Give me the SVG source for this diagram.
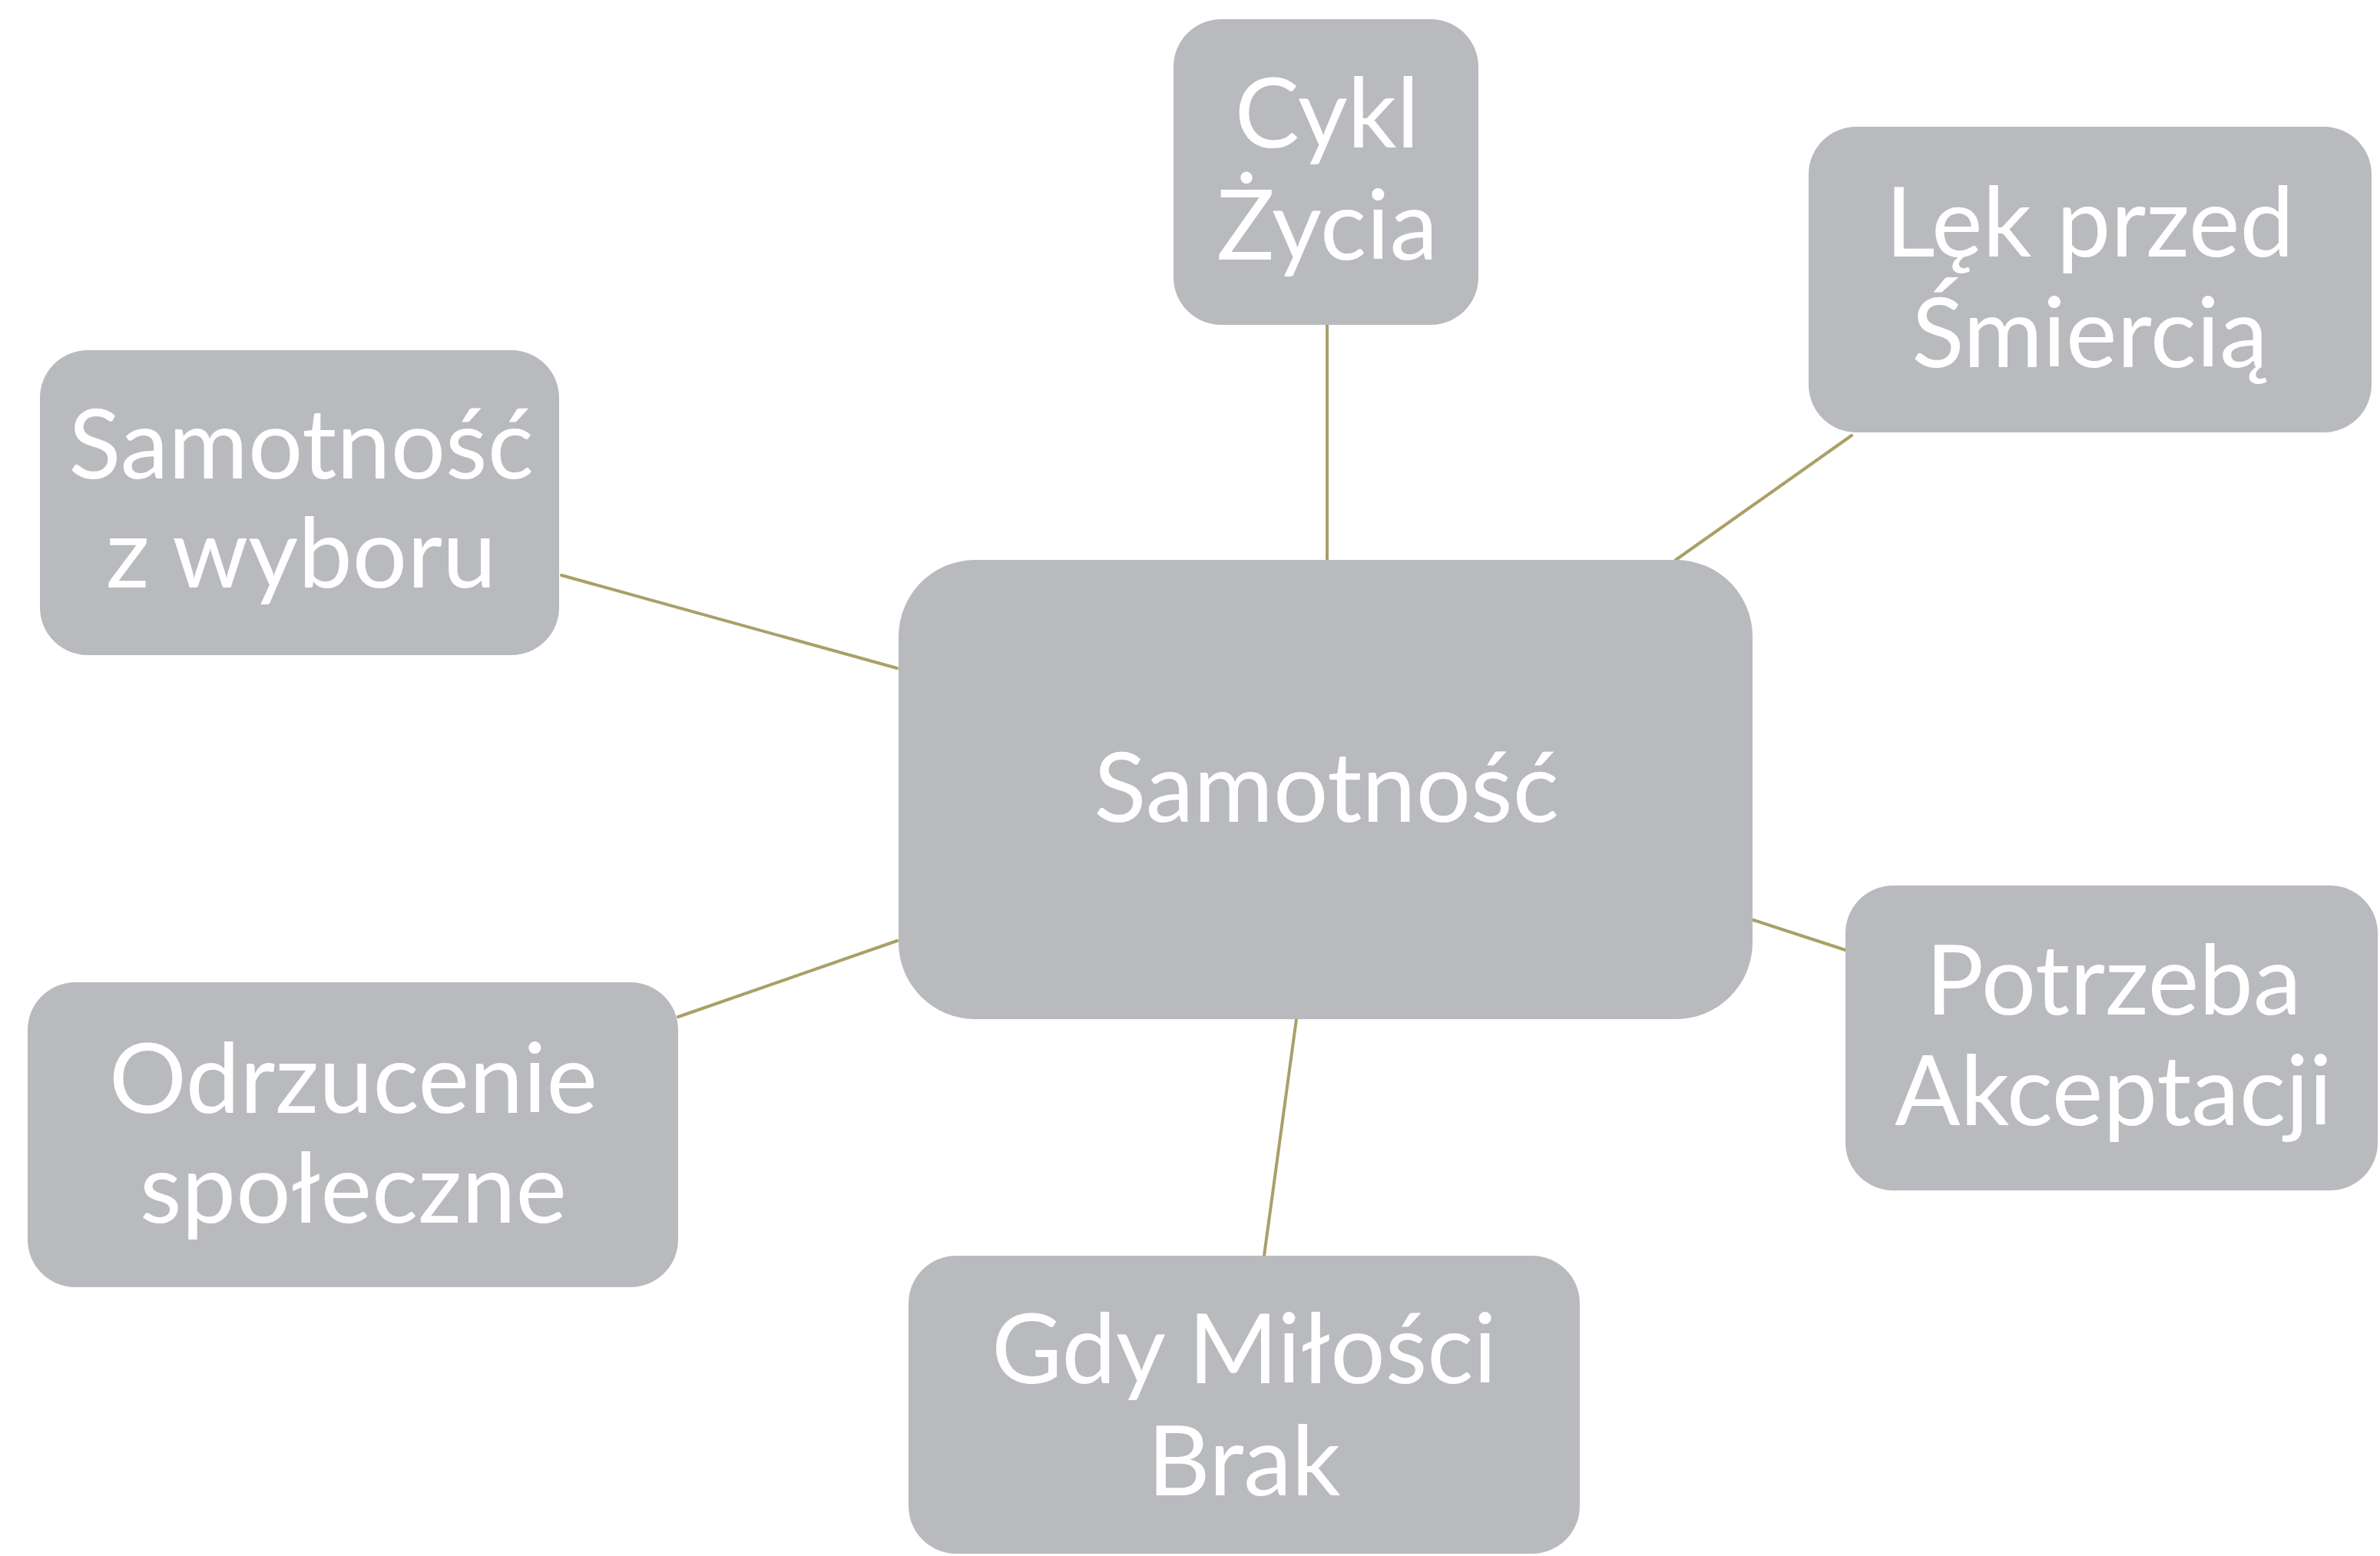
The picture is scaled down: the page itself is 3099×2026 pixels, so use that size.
<svg xmlns="http://www.w3.org/2000/svg" width="3099" height="2026" viewBox="0 0 3099 2026">
<style>
.box{fill:#b8babd;}
.lbl{font-family:Lato,"Open Sans","Liberation Sans",sans-serif;font-size:126px;fill:#ffffff;text-anchor:middle;}
.conn{stroke:#aa9f68;stroke-width:4;fill:none;stroke-linecap:round;}
</style>
<rect width="3099" height="2026" fill="#ffffff"/>
<g id="connectors">
<line class="conn" x1="1728" y1="423" x2="1728" y2="729"/>
<line class="conn" x1="2411" y1="567" x2="2182" y2="729"/>
<line class="conn" x1="731" y1="749" x2="1168" y2="870"/>
<line class="conn" x1="883" y1="1324" x2="1168" y2="1225"/>
<line class="conn" x1="2283" y1="1198" x2="2403" y2="1237"/>
<line class="conn" x1="1688" y1="1327" x2="1646" y2="1635"/>
</g>
<g id="node-center">
<rect class="box" x="1170" y="729" width="1112" height="598" rx="100"/>
<text class="lbl" x="1727" y="1070">Samotność</text>
</g>
<g id="node-cykl">
<rect class="box" x="1528" y="25" width="397" height="398" rx="62"/>
<text class="lbl" x="1728" y="192">Cykl</text>
<text class="lbl" x="1728" y="338">Życia</text>
</g>
<g id="node-lek">
<rect class="box" x="2355" y="165" width="733" height="398" rx="62"/>
<text class="lbl" x="2721" y="334">Lęk przed</text>
<text class="lbl" x="2721" y="478">Śmiercią</text>
</g>
<g id="node-wybor">
<rect class="box" x="52" y="456" width="676" height="397" rx="62"/>
<text class="lbl" x="392" y="623">Samotność</text>
<text class="lbl" x="392" y="765">z wyboru</text>
</g>
<g id="node-odrzucenie">
<rect class="box" x="36" y="1279" width="847" height="397" rx="62"/>
<text class="lbl" x="460" y="1449">Odrzucenie</text>
<text class="lbl" x="460" y="1592">społeczne</text>
</g>
<g id="node-potrzeba">
<rect class="box" x="2403" y="1153" width="693" height="397" rx="62"/>
<text class="lbl" x="2752" y="1321">Potrzeba</text>
<text class="lbl" x="2752" y="1465">Akceptacji</text>
</g>
<g id="node-gdy">
<rect class="box" x="1183" y="1635" width="874" height="388" rx="62"/>
<text class="lbl" x="1620" y="1801">Gdy Miłości</text>
<text class="lbl" x="1620" y="1947">Brak</text>
</g>
</svg>
